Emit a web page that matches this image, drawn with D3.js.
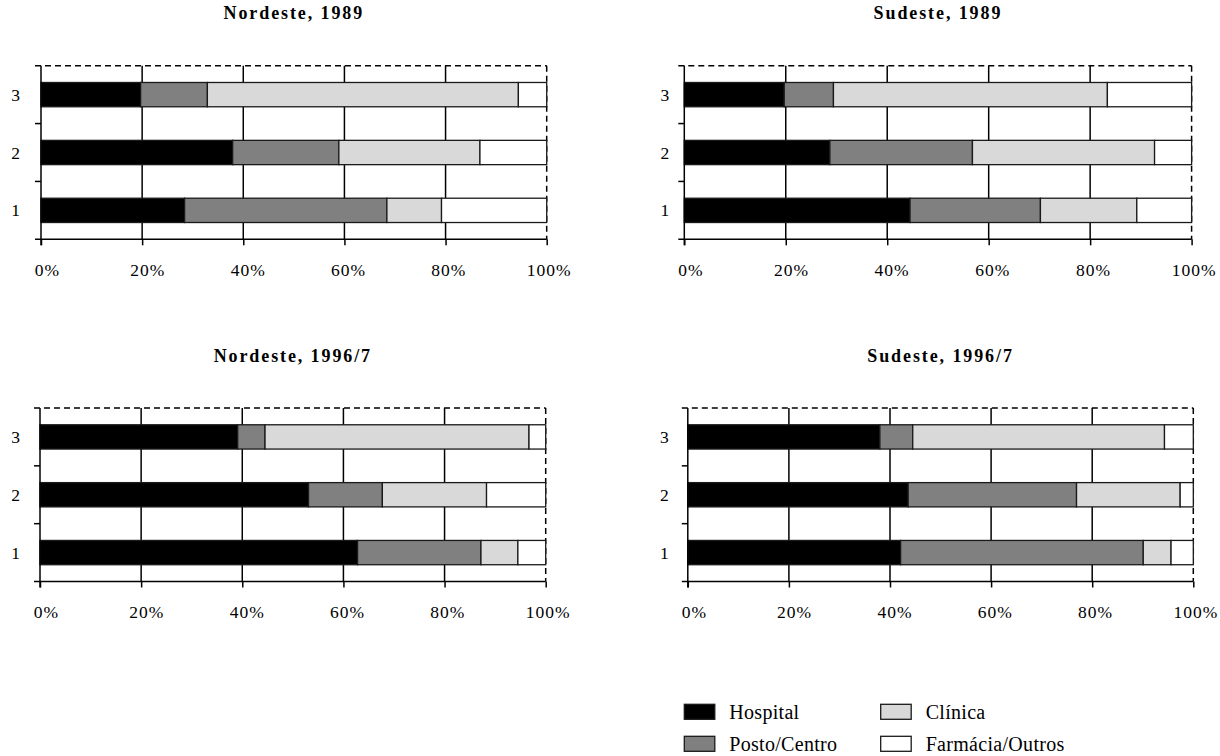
<!DOCTYPE html>
<html>
<head>
<meta charset="utf-8">
<script src="https://cdn.jsdelivr.net/npm/d3@7"></script>
<style>
  html, body { margin: 0; padding: 0; background: #fff; }
  svg { display: block; }
  text { font-family: "Liberation Serif", "DejaVu Serif", serif; fill: #000; }
</style>
</head>
<body>
<svg id="chart" width="1220" height="756"></svg>
<script>
// Service-type shares (%) by category, bottom-to-top order of categories 1..3
const categories = ["1", "2", "3"];
const seriesNames = ["Hospital", "Posto/Centro", "Clínica", "Farmácia/Outros"];
const seriesColors = ["#000000", "#808080", "#d9d9d9", "#ffffff"];
const xTicks = [0, 20, 40, 60, 80, 100];

// each row: [Hospital, Posto/Centro, Clínica, Farmácia/Outros]
const nordeste1989 = [
  [28.4, 40.0, 10.8, 20.8],
  [37.9, 21.0, 27.9, 13.2],
  [19.7, 13.2, 61.5, 5.6]
];
const sudeste1989 = [
  [44.5, 25.7, 19.0, 10.8],
  [28.7, 28.1, 35.9, 7.3],
  [19.7, 9.7, 54.0, 16.6]
];
const nordeste1996 = [
  [62.8, 24.4, 7.3, 5.5],
  [53.1, 14.6, 20.6, 11.7],
  [39.1, 5.4, 52.2, 3.3]
];
const sudeste1996 = [
  [42.1, 48.0, 5.5, 4.4],
  [43.6, 33.3, 20.5, 2.6],
  [38.0, 6.5, 49.8, 5.7]
];

const panelTitles = ["Nordeste, 1989", "Sudeste, 1989", "Nordeste, 1996/7", "Sudeste, 1996/7"];
const panelData = [nordeste1989, sudeste1989, nordeste1996, sudeste1996];

// plot-area frames for the 2x2 grid
const frames = [
  { x0: 41,  x1: 546.7,  y0: 65.7, y1: 239.3, labelGap: 21 },
  { x0: 684.3, x1: 1191.6, y0: 65.7, y1: 239.3, labelGap: 15 },
  { x0: 40,  x1: 545.7,  y0: 408,  y1: 581.5, labelGap: 20 },
  { x0: 687.8, x1: 1193.3, y0: 408,  y1: 581.5, labelGap: 19 }
];

const svg = d3.select("#chart");
const tickLen = 6;

panelData.forEach((rows, i) => {
  const f = frames[i];
  const g = svg.append("g");

  const x = d3.scaleLinear().domain([0, 100]).range([f.x0, f.x1]);
  const y = d3.scaleBand()
    .domain(categories.slice().reverse())
    .range([f.y0, f.y1])
    .paddingInner(0.58)
    .paddingOuter(0.29);

  // title
  g.append("text")
    .attr("x", (f.x0 + f.x1) / 2)
    .attr("y", f.y0 - 46.5)
    .attr("text-anchor", "middle")
    .style("font-weight", "bold")
    .style("font-size", "18px")
    .style("letter-spacing", "1.9px")
    .text(panelTitles[i]);

  // vertical gridlines
  g.append("g").selectAll("line")
    .data(xTicks.filter(t => t > 0 && t < 100))
    .join("line")
    .attr("x1", d => x(d)).attr("x2", d => x(d))
    .attr("y1", f.y0).attr("y2", f.y1)
    .attr("stroke", "#000").attr("stroke-width", 1.5);

  // dashed frame on top and right
  g.append("line")
    .attr("x1", f.x0 - tickLen).attr("x2", f.x1)
    .attr("y1", f.y0).attr("y2", f.y0)
    .attr("stroke", "#000").attr("stroke-width", 1.5)
    .attr("stroke-dasharray", "6,4");
  g.append("line")
    .attr("x1", f.x1).attr("x2", f.x1)
    .attr("y1", f.y0).attr("y2", f.y1)
    .attr("stroke", "#000").attr("stroke-width", 1.5)
    .attr("stroke-dasharray", "6,4");

  // stacked bars
  const stacked = d3.stack().keys(d3.range(seriesNames.length))(
    rows.map((r, j) => Object.assign({ cat: categories[j] }, r))
  );
  g.append("g").selectAll("g")
    .data(stacked)
    .join("g")
    .attr("fill", (d, k) => seriesColors[k])
    .selectAll("rect")
    .data(d => d)
    .join("rect")
    .attr("x", d => x(d[0]))
    .attr("width", d => x(d[1]) - x(d[0]))
    .attr("y", d => y(d.data.cat))
    .attr("height", y.bandwidth())
    .attr("stroke", "#1a1a1a")
    .attr("stroke-width", 1.3);

  // x axis
  const xAxis = g.append("g")
    .attr("transform", `translate(0,${f.y1})`)
    .call(d3.axisBottom(x).tickValues(xTicks).tickSize(tickLen).tickPadding(18)
      .tickFormat(d => d + "%"));
  xAxis.select(".domain").remove();
  xAxis.selectAll(".tick line").attr("stroke", "#000").attr("stroke-width", 1.5);
  xAxis.selectAll(".tick text")
    .attr("dx", d => 6 - 4 * d / 100)
    .style("font-family", "'Liberation Serif', serif")
    .style("font-size", "17.5px")
    .style("letter-spacing", "1px");
  g.append("line")
    .attr("x1", f.x0 - tickLen).attr("x2", f.x1)
    .attr("y1", f.y1).attr("y2", f.y1)
    .attr("stroke", "#000").attr("stroke-width", 1.5);

  // y axis: line, boundary ticks, category labels
  g.append("line")
    .attr("x1", f.x0).attr("x2", f.x0)
    .attr("y1", f.y0).attr("y2", f.y1 + tickLen)
    .attr("stroke", "#000").attr("stroke-width", 1.5);
  const step = y.step();
  const bounds = d3.range(1, categories.length).map(k => f.y0 + k * step);
  g.append("g").selectAll("line")
    .data(bounds)
    .join("line")
    .attr("x1", f.x0 - tickLen).attr("x2", f.x0)
    .attr("y1", d => d).attr("y2", d => d)
    .attr("stroke", "#000").attr("stroke-width", 1.5);
  g.append("g").selectAll("text")
    .data(categories)
    .join("text")
    .attr("x", f.x0 - f.labelGap)
    .attr("y", d => y(d) + y.bandwidth() / 2 + 2)
    .attr("text-anchor", "end")
    .attr("dominant-baseline", "middle")
    .style("font-size", "17.5px")
    .text(d => d);
});

// legend
const legendItems = [
  { k: 0, x: 684.3, y: 704.3 },
  { k: 1, x: 684.3, y: 736.3 },
  { k: 2, x: 880.7, y: 704.3 },
  { k: 3, x: 880.7, y: 736.3 }
];
const lg = svg.append("g");
legendItems.forEach(it => {
  lg.append("rect")
    .attr("x", it.x).attr("y", it.y)
    .attr("width", 30.5).attr("height", 15)
    .attr("fill", seriesColors[it.k])
    .attr("stroke", "#1a1a1a").attr("stroke-width", 1.3);
  lg.append("text")
    .attr("x", it.x + 45).attr("y", it.y + 15)
    .style("font-size", "20px")
    .style("letter-spacing", "0.3px")
    .text(seriesNames[it.k]);
});
</script>
</body>
</html>
